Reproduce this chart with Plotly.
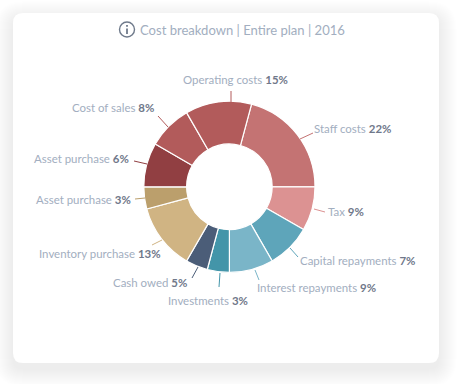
import plotly.graph_objects as go

W, H = 459, 384

# ---- data ----
labels = ["Staff costs", "Tax", "Capital repayments", "Interest repayments", "Investments",
          "Cash owed", "Inventory purchase", "Asset purchase", "Asset purchase", "Cost of sales",
          "Operating costs"]
percent_labels = [22, 9, 7, 9, 3, 5, 13, 3, 6, 8, 15]
drawn_degrees = [75, 30, 30, 30, 15, 15, 45, 15, 30, 30, 45]
colors = ["#c47373", "#dc9292", "#5ea5ba", "#7ab5c8", "#4395a9", "#4b5d78",
          "#d0b483", "#bb9f6c", "#913f42", "#b25b5b", "#b25b5b"]
title_text = "Cost breakdown | Entire plan | 2016"

# ---- layout (pixels) ----
CX, CY, R = 229.4, 186.8, 85.6
FONT = "Lato"
LABEL_COLOR = "#a2aec0"
VALUE_COLOR = "#70788a"
leaders = [(300,139,313,133),(314,209,325,212),(290,248,298,257),(255,270,259,280),(220,273,219,287),
           (198,267,192,278),(162,240,152,245),(145,198,135,199),(147,164,134,161),(168,127,158,116),(231,102,231,91)]
label_pos = [(312,128.5,"left"),(326,211.5,"left"),(298,260.5,"left"),(255,287.5,"left"),(250,300.5,"right"),
             (189,282.5,"right"),(163,253.5,"right"),(133,199.5,"right"),(131,158.5,"right"),(156,107.5,"right"),(290,79.5,"right")]

def px(x): return x / W
def py(y): return 1 - y / H

def round_rect(x0, y0, x1, y1, r):
    return (f"M{px(x0+r)},{py(y0)} L{px(x1-r)},{py(y0)} Q{px(x1)},{py(y0)} {px(x1)},{py(y0+r)} "
            f"L{px(x1)},{py(y1-r)} Q{px(x1)},{py(y1)} {px(x1-r)},{py(y1)} "
            f"L{px(x0+r)},{py(y1)} Q{px(x0)},{py(y1)} {px(x0)},{py(y1-r)} "
            f"L{px(x0)},{py(y0+r)} Q{px(x0)},{py(y0)} {px(x0+r)},{py(y0)} Z")

shapes = []
# soft shadow
for i in range(18, 0, -1):
    shapes.append(dict(type="path", xref="paper", yref="paper", layer="below",
                       path=round_rect(13-i, 13-i+6, 439+i, 363+i+6, 10+i),
                       fillcolor="rgba(0,0,0,0.005)", line_width=0))
# card
shapes.append(dict(type="path", xref="paper", yref="paper", layer="below",
                   path=round_rect(13, 13, 439, 363, 10), fillcolor="#ffffff", line_width=0))
# leader lines
for (x0, y0, x1, y1), c in zip(leaders, colors):
    shapes.append(dict(type="line", xref="paper", yref="paper", x0=px(x0), y0=py(y0), x1=px(x1), y1=py(y1),
                       line=dict(color=c, width=1)))
# info icon
shapes.append(dict(type="circle", xref="paper", yref="paper", x0=px(119.5), x1=px(134.5), y0=py(22), y1=py(37),
                   line=dict(color="#6f7a8b", width=1.4), fillcolor="rgba(0,0,0,0)"))
shapes.append(dict(type="line", xref="paper", yref="paper", x0=px(127), x1=px(127), y0=py(28.5), y1=py(34),
                   line=dict(color="#6f7a8b", width=1.8)))
shapes.append(dict(type="line", xref="paper", yref="paper", x0=px(127), x1=px(127), y0=py(25), y1=py(26.8),
                   line=dict(color="#6f7a8b", width=1.8)))

annotations = [dict(x=px(138), y=py(30), xref="paper", yref="paper", xanchor="left", yanchor="middle",
                    text=title_text, showarrow=False, font=dict(family=FONT, size=13.05, color=LABEL_COLOR))]
for name, pct, (x, y, a) in zip(labels, percent_labels, label_pos):
    annotations.append(dict(x=px(x), y=py(y), xref="paper", yref="paper", xanchor=a, yanchor="middle",
                            text=f"{name} <b><span style='color:{VALUE_COLOR}'>{pct}%</span></b>",
                            showarrow=False, font=dict(family=FONT, size=11.45, color=LABEL_COLOR)))

fig = go.Figure(go.Pie(
    labels=[f"{n} {p}%" for n, p in zip(labels, percent_labels)],
    values=drawn_degrees, sort=False, direction="clockwise", rotation=15, hole=0.5,
    marker=dict(colors=colors, line=dict(color="#ffffff", width=1.2)),
    textinfo="none", showlegend=False,
    domain=dict(x=[px(CX-R), px(CX+R)], y=[py(CY+R), py(CY-R)]),
))
fig.update_layout(width=W, height=H, margin=dict(l=0, r=0, t=0, b=0), paper_bgcolor="#ffffff",
                  shapes=shapes, annotations=annotations, autosize=False)
fig.write_html("out.html", config=dict(displayModeBar=False),
               post_script="document.body.style.margin='0';document.body.style.overflow='hidden';")
